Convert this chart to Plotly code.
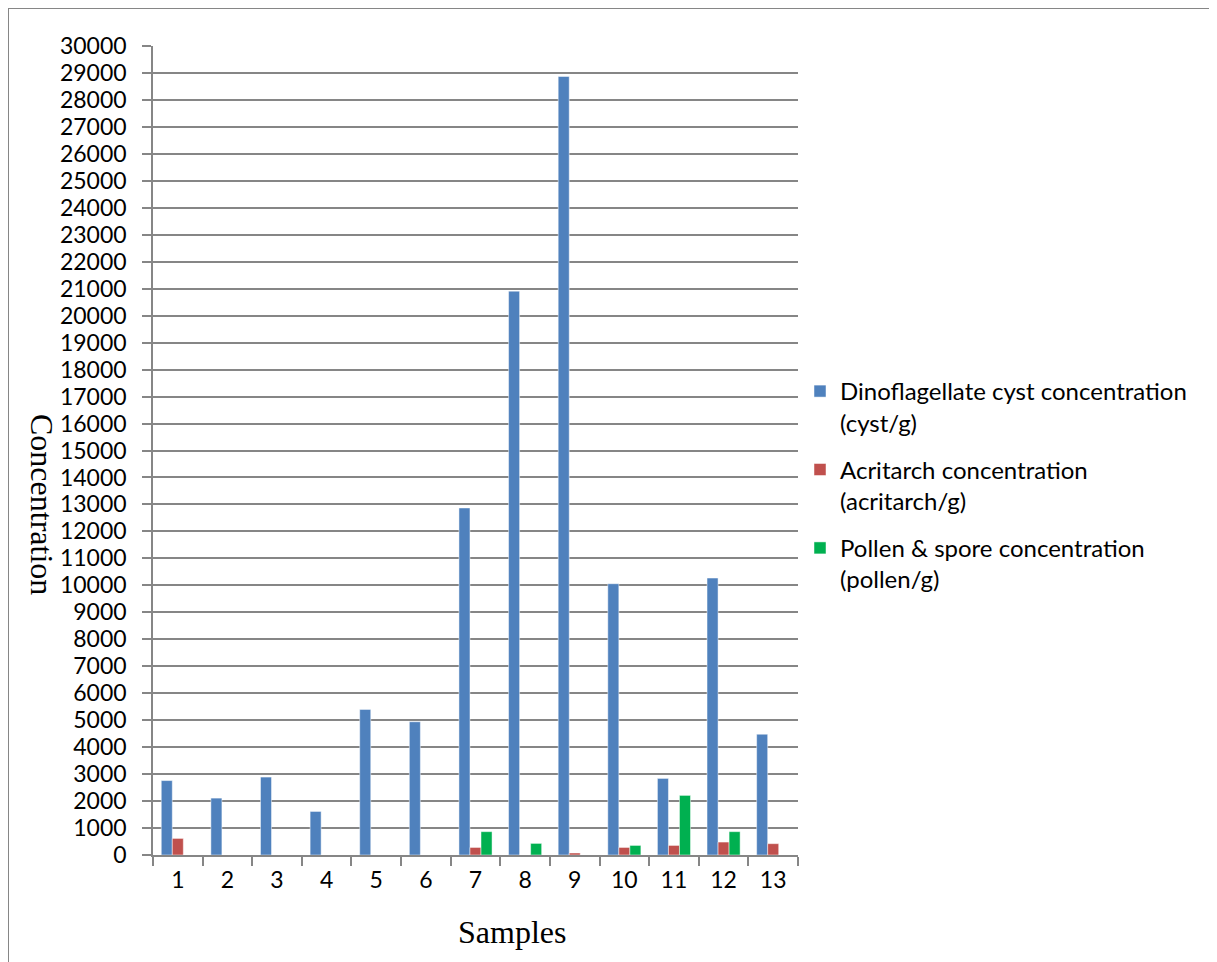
import plotly.graph_objects as go

samples = ["1", "2", "3", "4", "5", "6", "7", "8", "9", "10", "11", "12", "13"]
dino = [2760, 2110, 2890, 1615, 5400, 4940, 12870, 20910, 28870, 10060, 2840, 10270, 4480]
acri = [615, 0, 0, 0, 0, 0, 280, 0, 75, 280, 355, 480, 420]
pollen = [0, 0, 0, 0, 0, 0, 865, 430, 0, 355, 2210, 865, 0]

names = ["Dinoflagellate cyst concentration<br>(cyst/g)",
         "Acritarch concentration<br>(acritarch/g)",
         "Pollen & spore concentration<br>(pollen/g)"]
colors = ["#4F81BD", "#C0504D", "#00B050"]

W, H = 1217, 962
OFF = 8  # page body offset
L, R, T, B = 153, 798, 46, 855  # target plot area in screen pixels

fig = go.Figure()
for i, (vals, nm, c) in enumerate(zip([dino, acri, pollen], names, colors)):
    fig.add_trace(go.Bar(x=samples, y=vals, name=nm, legendgroup=str(i),
                         marker=dict(color=c, line=dict(color="rgba(255,255,255,0.6)", width=0.8))))

def px2x(px):
    return (px - L) / (R - L)

def py2y(py):
    return (B - py) / (B - T)

fig.update_layout(
    width=W, height=H,
    margin=dict(l=L - OFF, r=W - (R - OFF), t=T - OFF, b=H - (B - OFF), pad=0),
    paper_bgcolor="white", plot_bgcolor="white",
    barmode="group", bargap=0.333, bargroupgap=0,
    font=dict(family="Lato", size=23, color="#000000"),
    showlegend=True,
    legend=dict(x=px2x(800), y=py2y(369), xanchor="left", yanchor="top",
                font=dict(family="Lato", size=24, color="#000000"),
                tracegroupgap=13, valign="top", itemwidth=30,
                bgcolor="rgba(0,0,0,0)"),
    xaxis=dict(type="category", showline=True, linecolor="#868686", linewidth=1.5,
               ticks="outside", tickson="boundaries", ticklen=9, tickcolor="#868686",
               tickwidth=1.5, showgrid=False, tickfont=dict(size=23),
               ticklabelstandoff=4),
    yaxis=dict(range=[0, 30000], dtick=1000, showline=True, linecolor="#868686",
               linewidth=1.5, ticks="outside", ticklen=9, tickcolor="#868686",
               tickwidth=1.5, showgrid=True, gridcolor="#868686", gridwidth=1.5,
               tickfont=dict(size=23), zeroline=False, ticklabelstandoff=11,
               tickformat="d"),
    annotations=[
        dict(text="Concentration", xref="paper", yref="paper", x=px2x(42), y=py2y(505),
             showarrow=False, textangle=90, xanchor="center", yanchor="middle",
             font=dict(family="Liberation Serif", size=32, color="#000000")),
        dict(text="Samples", xref="paper", yref="paper", x=px2x(512), y=py2y(932),
             showarrow=False, xanchor="center", yanchor="middle",
             font=dict(family="Liberation Serif", size=32, color="#000000")),
    ],
    shapes=[
        dict(type="rect", xref="paper", yref="paper",
             x0=px2x(8), x1=px2x(1240), y0=py2y(990), y1=py2y(8),
             line=dict(color="#868686", width=2), fillcolor="rgba(0,0,0,0)", layer="below"),
    ],
)

fig.write_html("out.html")
